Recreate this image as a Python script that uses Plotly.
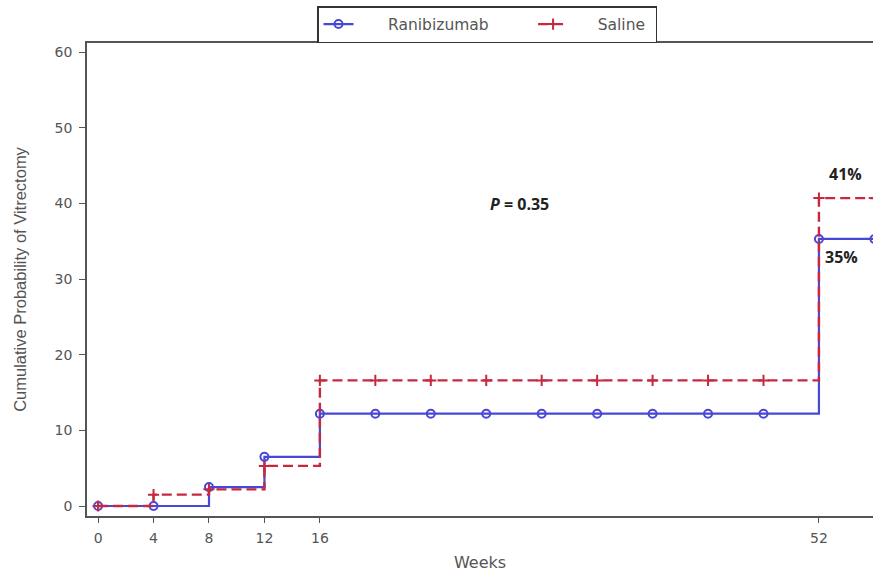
import plotly.graph_objects as go

weeks = [0, 4, 8, 12, 16, 20, 24, 28, 32, 36, 40, 44, 48, 52, 56]
ranibizumab = [0, 0, 2.5, 6.5, 12.2, 12.2, 12.2, 12.2, 12.2, 12.2, 12.2, 12.2, 12.2, 35.3, 35.3]
saline = [0, 1.5, 2.2, 5.3, 16.6, 16.6, 16.6, 16.6, 16.6, 16.6, 16.6, 16.6, 16.6, 40.7, 40.7]
x_ticks = [0, 4, 8, 12, 16, 52]
y_ticks = [0, 10, 20, 30, 40, 50, 60]

BLUE = "rgb(72,72,215)"
RED = "rgb(200,40,62)"
AX = "#555555"
TXT = "#555555"
NB = "\u00a0"
SANS = "DejaVu Sans, Verdana, sans-serif"
ARIAL = "Liberation Sans, Arial, sans-serif"

fig = go.Figure()
fig.add_trace(go.Scatter(
    x=weeks, y=ranibizumab, name=NB * 6 + "Ranibizumab" + NB * 8, mode="lines+markers",
    line=dict(color=BLUE, width=2.2, shape="hv"),
    marker=dict(symbol="circle-open", size=8, color=BLUE, line=dict(width=2, color=BLUE)),
))
fig.add_trace(go.Scatter(
    x=weeks, y=saline, name=NB * 5 + "Saline" + NB, mode="lines+markers",
    line=dict(color=RED, width=2.4, shape="hv", dash="10px,5px"),
    marker=dict(symbol="cross-thin-open", size=8, color=RED, line=dict(width=2, color=RED)),
))

ann_font = dict(family="Open Sans, Liberation Sans, sans-serif", size=16, color="#222222")
fig.add_annotation(x=30.4, y=39.9, text="<b><i>P</i> = 0.35</b>", showarrow=False, font=ann_font)
fig.add_annotation(x=53.9, y=43.9, text="<b>41%</b>", showarrow=False, font=ann_font)
fig.add_annotation(x=53.6, y=32.9, text="<b>35%</b>", showarrow=False, font=ann_font)

fig.update_layout(
    width=873, height=572,
    margin=dict(l=87, r=0, t=43, b=56),
    paper_bgcolor="white", plot_bgcolor="white",
    font=dict(family=SANS, size=14, color=TXT),
    showlegend=True,
    legend=dict(orientation="h", x=(317 - 87) / 786, xanchor="left", y=1 + (43 - 6) / 473, yanchor="top",
                bordercolor="#333333", borderwidth=1.5, bgcolor="white",
                font=dict(family=SANS, size=15.5, color=TXT), tracegroupgap=0),
    xaxis=dict(range=[-0.8, 55.9], tickvals=x_ticks, ticktext=[str(t) for t in x_ticks],
               automargin=False,
               showgrid=False, zeroline=False, showline=True, linecolor=AX, linewidth=1.5,
               mirror=True, ticks="outside", ticklen=5, tickcolor=AX, ticklabelstandoff=3,
               title=dict(text="Weeks", font=dict(family=SANS, size=16, color=TXT), standoff=18),
               tickfont=dict(family=SANS, size=14, color=TXT)),
    yaxis=dict(range=[-1.32, 61.2], tickvals=y_ticks, showgrid=False, zeroline=False,
               automargin=False,
               showline=True, linecolor=AX, linewidth=1.5, ticks="outside", ticklen=6,
               tickcolor=AX, ticklabelstandoff=4, tickfont=dict(family=SANS, size=14, color=TXT),
               title=dict(text="Cumulative Probability of Vitrectomy",
                          font=dict(family=ARIAL, size=16.5, color=TXT), standoff=24)),
)

fig.write_html("out.html", config={"displayModeBar": False},
               post_script="document.body.style.margin='0';document.body.style.overflow='hidden';")
